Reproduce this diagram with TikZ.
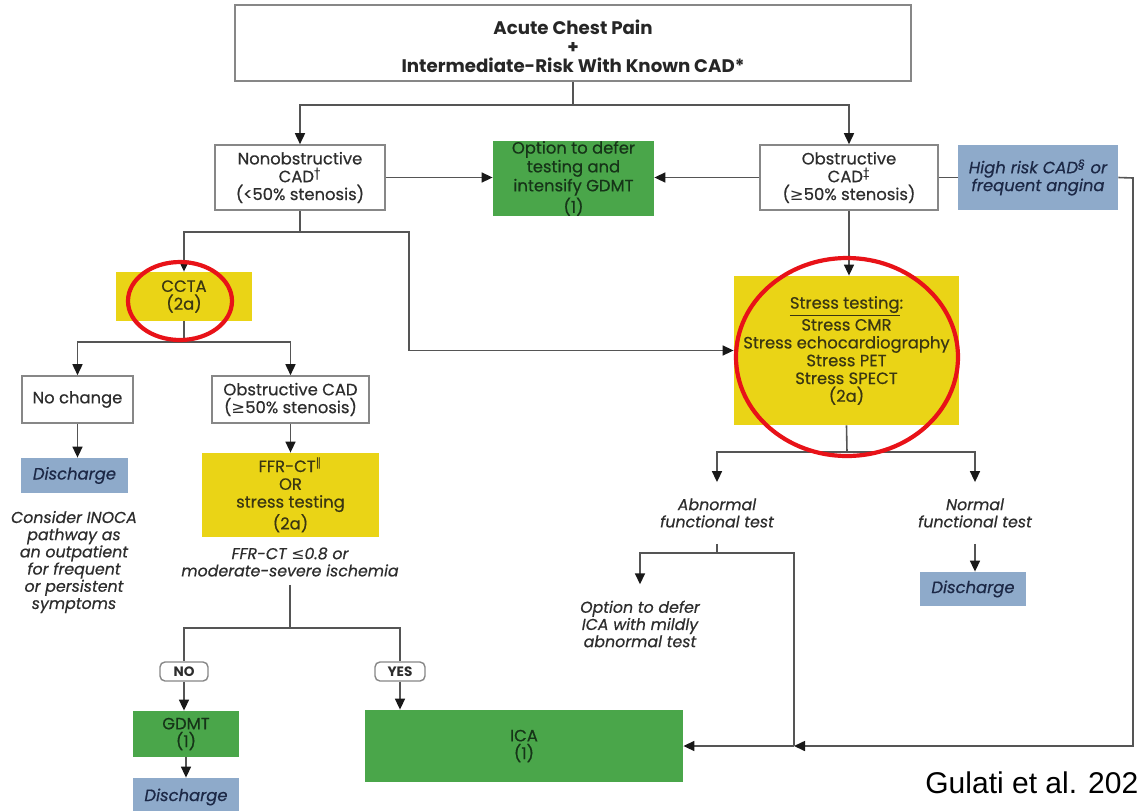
\documentclass[tikz,border=0pt]{standalone}
\usepackage{fontspec}
\setmainfont{Poppins}[UprightFeatures={FakeBold=0.5}, ItalicFeatures={FakeBold=0.5}]
\newfontfamily\symfont{DejaVu Sans}
\newfontfamily\citefont{Liberation Sans}
\usetikzlibrary{arrows.meta}

\definecolor{gbox}{RGB}{74,166,74}
\definecolor{gtext}{RGB}{22,52,24}
\definecolor{ybox}{RGB}{234,212,22}
\definecolor{ytext}{RGB}{58,54,18}
\definecolor{bbox}{RGB}{142,170,202}
\definecolor{btext}{RGB}{28,40,70}
\definecolor{boxgray}{RGB}{135,135,135}
\definecolor{linegray}{RGB}{85,85,85}
\definecolor{textgray}{RGB}{45,45,45}
\definecolor{ringred}{RGB}{232,18,24}

% box given by its corners (in px): name, x1, y1, x2, y2, style, text
\newcommand\mkbox[7]{%
  \pgfmathsetmacro\mkw{(#4-#2)*0.5}%
  \pgfmathsetmacro\mkh{(#5-#3)*0.5}%
  \node[#6, minimum width=\mkw pt, minimum height=\mkh pt] (#1) at ({(#2+#4)/2},{(#3+#5)/2}) {#7};}

\begin{document}
\begin{tikzpicture}[x=0.5pt,y=-0.5pt,
  line/.style={draw=linegray, line width=0.8pt},
  arr/.style={line, -{Triangle[length=5.5pt,width=5pt,color=black!90]}},
  base/.style={font=\fontsize{8.2}{8.9}\selectfont, align=center, inner sep=0pt},
  whitebox/.style={base, draw=boxgray, line width=0.8pt, fill=white, text=textgray},
  greenbox/.style={base, fill=gbox, text=gtext},
  yellowbox/.style={base, fill=ybox, text=ytext},
  bluebox/.style={base, fill=bbox, text=btext, font=\fontsize{8.2}{8.9}\selectfont\itshape},
  note/.style={base, text=textgray, font=\fontsize{7.9}{8.6}\selectfont\itshape},
  tag/.style={base, draw=boxgray, line width=0.7pt, rounded corners=2.5pt, fill=white,
    text=textgray, font=\fontsize{6.8}{7.5}\selectfont\bfseries},
  ring/.style={draw=ringred, line width=2.1pt}
]
\fill[white] (0,0) rectangle (1137,810);
\useasboundingbox (0,0) rectangle (1137,810);

% ---- boxes ----
\mkbox{top}{235}{5}{911}{81}{whitebox, text=black!85, font=\fontsize{9.1}{9.5}\selectfont\bfseries}%
  {\rule{0pt}{10.2pt}Acute Chest Pain\\+\\Intermediate-Risk With Known CAD*}
\mkbox{nonob}{215}{145}{385}{210}{whitebox}{Nonobstructive\\CAD\textsuperscript{†}\\(<50\% stenosis)}
\mkbox{defer}{493}{142}{654}{215}{greenbox, font=\fontsize{8.2}{8.2}\selectfont}{Option to defer\\testing and\\intensify GDMT\\(1)}
\mkbox{obs}{760}{145}{938}{210}{whitebox}{Obstructive\\CAD\textsuperscript{‡}\\({\symfont ≥}50\% stenosis)}
\mkbox{hr}{958}{145}{1118}{210}{bluebox}{High risk CAD\textsuperscript{§} or\\frequent angina}
\mkbox{ccta}{116}{272}{252}{321}{yellowbox}{CCTA\\(2a)}
\mkbox{stress}{734}{276}{959}{425}{yellowbox}%
  {\underline{Stress testing}:\\Stress CMR\\Stress echocardiography\\Stress PET\\Stress SPECT\\(2a)}
\mkbox{nochange}{22}{376}{133}{423}{whitebox}{No change}
\mkbox{obscad}{212}{376}{369}{423}{whitebox}{Obstructive CAD\\({\symfont ≥}50\% stenosis)}
\mkbox{dis1}{21}{458}{128}{493}{bluebox}{Discharge}
\mkbox{ffr}{202}{453}{379}{537}{yellowbox}{FFR-CT\textsuperscript{{\symfont ‖}}\\OR\\stress testing\\(2a)}
\node[note] (inoca) at (74,562) {Consider INOCA\\pathway as\\an outpatient\\for frequent\\or persistent\\symptoms};
\node[note, inner ysep=4pt] (ffrnote) at (290,562) {FFR-CT {\symfont ≤}0.8 or\\moderate-severe ischemia};
\node[note, inner ysep=8pt] (abn) at (717,513) {Abnormal\\functional test};
\node[note, inner ysep=8pt] (norm) at (975,513) {Normal\\functional test};
\mkbox{dis2}{920}{572}{1026}{606}{bluebox}{Discharge}
\node[note, inner ysep=8pt] (deferica) at (640,624) {Option to defer\\ICA with mildly\\abnormal test};
\mkbox{no}{160}{662}{208}{681}{tag}{NO}
\mkbox{yes}{375}{662}{425}{681}{tag}{YES}
\mkbox{gdmt}{133}{711}{239}{757}{greenbox}{GDMT\\(1)}
\mkbox{dis3}{133}{778}{239}{816}{bluebox}{Discharge}
\mkbox{ica}{365}{710}{683}{782}{greenbox}{ICA\\(1)}

% ---- junction points ----
\coordinate (t1) at (573,105);
\coordinate (n1) at (300,232);
\coordinate (n2) at (409,232);
\coordinate (c1) at (184,342);
\coordinate (s1) at (847,452);
\coordinate (a1) at (717,553);
\coordinate (f1) at (290,628);
\coordinate (j2) at (794,746);
\coordinate (rc1) at (1133,178);

% ---- connectors ----
\draw[line] (top.south) -- (t1);
\draw[arr] (t1) -| (nonob.north);
\draw[arr] (t1) -| (obs.north);
\draw[arr] (nonob.east) -- (nonob.east -| defer.west);
\draw[arr] (obs.west) -- (obs.west -| defer.east);
\draw[line] (obs.east) -- (obs.east -| hr.west);
\draw[arr] (hr.east) -- (rc1) |- (j2);

\draw[line] (nonob.south) -- (n1);
\draw[arr] (n1) -| (ccta.north);
\draw[arr] (n1) -- (n2) |- (stress.west);
\draw[arr] (obs.south) -- (obs.south |- stress.north);

\draw[line] (ccta.south) -- (c1);
\draw[arr] (c1) -| (nochange.north);
\draw[arr] (c1) -| (obscad.north);
\draw[arr] (nochange.south) -- (nochange.south |- dis1.north);
\draw[arr] (obscad.south) -- (ffr.north);

\draw[line] (ffrnote.south) -- (f1);
\draw[line] (f1) -| (no.north);
\draw[line] (f1) -| (yes.north);
\draw[arr] (no.south) -- (no.south |- gdmt.north);
\draw[arr] (gdmt.south) -- (gdmt.south |- dis3.north);
\draw[arr] (yes.south) -- (yes.south |- ica.north);

\draw[line] (stress.south) -- (s1);
\draw[arr] (s1) -| (abn.north);
\draw[arr] (s1) -| (norm.north);
\draw[arr] (norm.south) -- (norm.south |- dis2.north);
\draw[line] (abn.south) -- (a1);
\draw[arr] (a1) -| (deferica.north);
\draw[line] (a1) -| (j2);
\draw[arr] (j2) -- (ica.east);

% ---- highlight rings ----
\draw[ring] (180,301) ellipse [x radius=26pt, y radius=19.5pt];
\draw[ring] (847,357) ellipse [x radius=55.5pt, y radius=49.5pt];

% ---- reference ----
\node[anchor=west, inner sep=0pt, text=black, font=\citefont\fontsize{15}{18}\selectfont] (cite) at (925,783) {Gulati et al. 2021};
\end{tikzpicture}
\end{document}
